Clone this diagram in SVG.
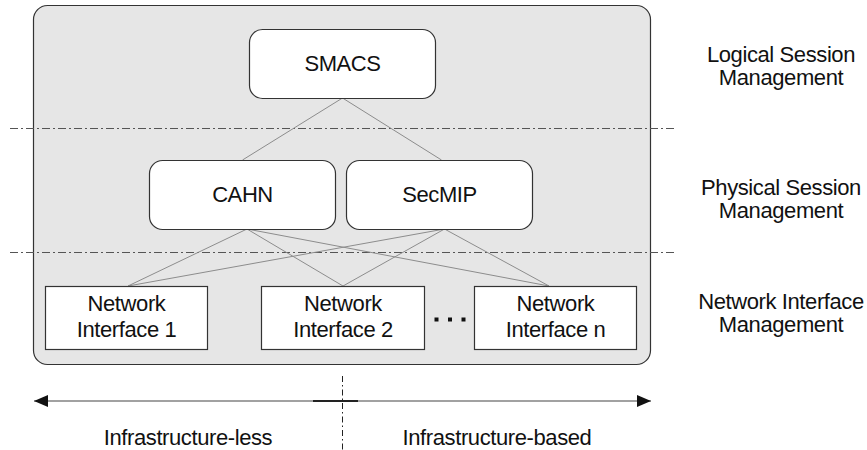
<svg xmlns="http://www.w3.org/2000/svg" width="867" height="450" viewBox="0 0 867 450">
<defs>
<style>
text{font-family:"Liberation Sans",Arial,Helvetica,sans-serif;font-size:22px;letter-spacing:-0.4px;fill:#111;text-anchor:middle}
.node{fill:#fff;stroke:#333;stroke-width:1.2}
.conn{stroke:#8c8c8c;stroke-width:1;fill:none}
.sep{stroke:#555;stroke-width:1;stroke-dasharray:8 3 2 3;fill:none}
</style>
<marker id="ah" viewBox="0 0 14 12" refX="14" refY="6" markerWidth="14" markerHeight="12" markerUnits="userSpaceOnUse" orient="auto-start-reverse">
<path d="M0,0 L14,6 L0,12 z" fill="#111"/>
</marker>
</defs>
<rect width="867" height="450" fill="#fff"/>
<g id="container">
<rect x="33.5" y="5.5" width="617" height="359" rx="14" fill="#e6e6e6" stroke="#333" stroke-width="1.2"/>
</g>
<g id="separators">
<line class="sep" x1="10" y1="128.5" x2="675" y2="128.5"/>
<line class="sep" x1="10" y1="252.5" x2="675" y2="252.5"/>
</g>
<g id="connectors">
<line class="conn" x1="342.5" y1="98" x2="242.5" y2="160"/>
<line class="conn" x1="342.5" y1="98" x2="441.5" y2="160"/>
<line class="conn" x1="247" y1="229" x2="128" y2="286"/>
<line class="conn" x1="247" y1="229" x2="343" y2="286"/>
<line class="conn" x1="247" y1="229" x2="549" y2="286"/>
<line class="conn" x1="444.5" y1="229" x2="128" y2="286"/>
<line class="conn" x1="444.5" y1="229" x2="343" y2="286"/>
<line class="conn" x1="444.5" y1="229" x2="549" y2="286"/>
</g>
<g id="smacs">
<rect class="node" x="249.5" y="29.5" width="186" height="69" rx="13"/>
<text x="342.5" y="71">SMACS</text>
</g>
<g id="cahn">
<rect class="node" x="149.5" y="160.5" width="186" height="69" rx="13"/>
<text x="242.5" y="202">CAHN</text>
</g>
<g id="secmip">
<rect class="node" x="346.5" y="160.5" width="186" height="69" rx="13"/>
<text x="439.5" y="202">SecMIP</text>
</g>
<g id="ni1">
<rect class="node" x="45.5" y="286.5" width="162" height="63"/>
<text x="126.5" y="311">Network</text>
<text x="126.5" y="337">Interface 1</text>
</g>
<g id="ni2">
<rect class="node" x="261.5" y="286.5" width="163" height="63"/>
<text x="343" y="311">Network</text>
<text x="343" y="337">Interface 2</text>
</g>
<g id="nin">
<rect class="node" x="474.5" y="286.5" width="162" height="63"/>
<text x="555.5" y="311">Network</text>
<text x="555.5" y="337">Interface n</text>
</g>
<g id="ellipsis" fill="#111">
<rect x="434.5" y="317.5" width="4" height="4"/>
<rect x="448" y="317.5" width="4" height="4"/>
<rect x="461.5" y="317.5" width="4" height="4"/>
</g>
<g id="layer-labels">
<text x="781" y="62">Logical Session</text>
<text x="781" y="85">Management</text>
<text x="781" y="195">Physical Session</text>
<text x="781" y="218">Management</text>
<text x="781" y="309">Network Interface</text>
<text x="781" y="332">Management</text>
</g>
<g id="axis">
<line x1="34" y1="401" x2="651" y2="401" stroke="#444" stroke-width="1.2" marker-start="url(#ah)" marker-end="url(#ah)"/>
<line x1="313" y1="401" x2="358" y2="401" stroke="#222" stroke-width="1.8"/>
<line x1="342.5" y1="376" x2="342.5" y2="450" stroke="#222" stroke-width="1" stroke-dasharray="6 3 1.5 3"/>
<text x="188" y="445">Infrastructure-less</text>
<text x="497" y="445">Infrastructure-based</text>
</g>
</svg>
